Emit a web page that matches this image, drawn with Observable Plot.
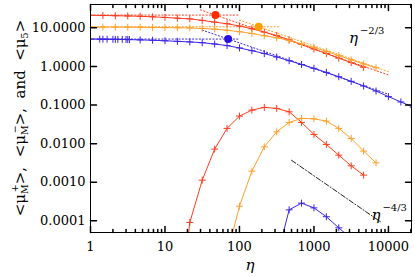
<!DOCTYPE html>
<html><head><meta charset="utf-8">
<script src="https://cdn.jsdelivr.net/npm/d3@7"></script>
<script src="https://cdn.jsdelivr.net/npm/@observablehq/plot@0.6"></script>
<style>body{margin:0;background:#fff;} svg{display:block;}</style>
</head><body><div id="chart"></div>
<script>
const eta = [1, 1.468, 2.154, 3.162, 4.642, 6.813, 10, 14.68, 21.54, 31.62, 46.42, 68.13, 100, 146.8, 215.4, 316.2, 464.2, 681.3, 1000, 1468, 2154, 3162, 4642, 6813, 10000, 14678, 21544];

// <mu_5> curves (start at eta[0])
const mu5Red    = [21, 20.8, 20.5, 20.2, 19.8, 19.2, 18.5, 17.7, 17.0, 15.5, 14.0, 12.7, 11.1, 9.4, 7.7, 6.3, 4.9, 3.7, 2.8, 2.15, 1.63, 1.25, 0.95];
const mu5Orange = [10.4, 10.4, 10.4, 10.35, 10.3, 10.2, 10.1, 10.0, 9.9, 9.6, 9.2, 8.6, 7.9, 7.1, 6.2, 5.5, 4.7, 3.8, 3.1, 2.45, 1.9, 1.48, 1.15, 0.92];
const mu5Blue   = [5.1, 5.05, 5.0, 4.95, 4.85, 4.75, 4.6, 4.45, 4.3, 4.1, 3.8, 3.45, 3.0, 2.55, 2.15, 1.75, 1.4, 1.12, 0.89, 0.7, 0.54, 0.41, 0.31, 0.23, 0.165, 0.12, 0.088];
const blueDenseEta = [1.33, 1.67, 2, 2.33, 2.67, 3, 3.33];
const blueDenseMu5 = [5.08, 5.05, 5.02, 5.0, 4.99, 4.97, 4.95];

// <mu_M> curves (start index into eta grid)
const muMRedStart = 7;
const muMRed    = [1e-7, 9.1e-5, 1.13e-3, 7.2e-3, 0.0248, 0.0516, 0.0738, 0.0867, 0.0817, 0.0667, 0.0354, 0.0173, 0.00953, 0.00503, 0.00266, 0.00153];
const muMOrangeStart = 11;
const muMOrange = [1.35e-5, 2.4e-4, 1.94e-3, 8.26e-3, 0.0202, 0.0354, 0.045, 0.044, 0.0383, 0.0248, 0.0136, 0.0064, 0.00318];
const muMBlueStart = 15;
const muMBlue   = [1.07e-5, 1.93e-4, 2.88e-4, 2.17e-4, 1.28e-4, 6.6e-5, 3.5e-5];

// asymptotes (dotted) and crossover points
const redFlatEta = [1, 100],     redFlatV = [21.3, 21.3];
const redSlopeEta = [30, 10000], redSlopeV = [29.0, 0.60];
const orFlatEta = [1, 350],      orFlatV = [10.6, 10.6];
const orSlopeEta = [100, 10000], orSlopeV = [15.8, 0.73];
const blFlatEta = [1, 100],      blFlatV = [5.1, 5.1];
const blSlopeEta = [31.6, 10000], blSlopeV = [8.7, 0.19];
const crossEta = [47.6, 181.6, 70.5];
const crossV   = [21.3, 10.6, 5.1];
const crossSeries = ["red", "orange", "blue"];
const slope43Eta = [500, 8000], slope43V = [3.7e-3, 9.2e-5];

const xMajor = [1, 10, 100, 1000, 10000];
const xMinor = [2,3,4,5,6,7,8,9,20,30,40,50,60,70,80,90,200,300,400,500,600,700,800,900,2000,3000,4000,5000,6000,7000,8000,9000,20000];
const yMajor = [1e-4, 1e-3, 1e-2, 1e-1, 1, 10];

const colors = {red: "#ff3c1e", orange: "#ffa028", blue: "#3a26e6"};
const dotColors = {red: "#ff2a00", orange: "#ffa000", blue: "#2a10e0"};

const rows = (xs, vs) => vs.map((v, i) => ({eta: xs[i], v}));
const seriesU = [
  {c: "red", d: rows(eta, mu5Red)},
  {c: "orange", d: rows(eta, mu5Orange)},
  {c: "blue", d: rows(eta, mu5Blue)},
  {c: "red", d: rows(eta.slice(muMRedStart), muMRed)},
  {c: "orange", d: rows(eta.slice(muMOrangeStart), muMOrange)},
  {c: "blue", d: rows(eta.slice(muMBlueStart), muMBlue)}
];
const asym = [
  {c: "red", d: rows(redFlatEta, redFlatV)}, {c: "red", d: rows(redSlopeEta, redSlopeV)},
  {c: "orange", d: rows(orFlatEta, orFlatV)}, {c: "orange", d: rows(orSlopeEta, orSlopeV)},
  {c: "blue", d: rows(blFlatEta, blFlatV)}, {c: "blue", d: rows(blSlopeEta, blSlopeV)}
];
const crossPts = crossEta.map((e, i) => ({eta: e, v: crossV[i], c: crossSeries[i]}));

const plusSym = {draw(ctx, size) { const r = Math.sqrt(size / Math.PI); ctx.moveTo(-r, 0); ctx.lineTo(r, 0); ctx.moveTo(0, -r); ctx.lineTo(0, r); }};
const tickShape = {draw(ctx, l) { ctx.moveTo(0, 0); ctx.lineTo(0, -l); }};

const marks = [];
for (const s of asym) marks.push(Plot.line(s.d, {x: "eta", y: "v", stroke: colors[s.c], strokeWidth: 1, strokeDasharray: "1.2,2.2", clip: true}));
for (const s of seriesU) {
  marks.push(Plot.line(s.d, {x: "eta", y: "v", stroke: colors[s.c], strokeWidth: 1, clip: true}));
  marks.push(Plot.dot(s.d, {x: "eta", y: "v", symbol: plusSym, r: 3.5, stroke: colors[s.c], fill: "none", strokeWidth: 1, clip: true}));
}
marks.push(Plot.dot(rows(blueDenseEta, blueDenseMu5), {x: "eta", y: "v", symbol: plusSym, r: 3.5, stroke: colors.blue, fill: "none", strokeWidth: 1}));
marks.push(Plot.line(rows(slope43Eta, slope43V), {x: "eta", y: "v", stroke: "#222", strokeWidth: 1, strokeDasharray: "5,2,1,2"}));
marks.push(Plot.dot(crossPts, {x: "eta", y: "v", r: 4, fill: d => dotColors[d.c], stroke: "none"}));
marks.push(Plot.frame({stroke: "black", strokeWidth: 1}));
// inward ticks
marks.push(Plot.vector(xMajor, {x: d => d, frameAnchor: "bottom", anchor: "start", length: 6, rotate: 0, shape: tickShape, stroke: "black"}));
marks.push(Plot.vector(xMinor, {x: d => d, frameAnchor: "bottom", anchor: "start", length: 3, rotate: 0, shape: tickShape, stroke: "black"}));
marks.push(Plot.vector(xMajor, {x: d => d, frameAnchor: "top", anchor: "start", length: 6, rotate: 180, shape: tickShape, stroke: "black"}));
marks.push(Plot.vector(xMinor, {x: d => d, frameAnchor: "top", anchor: "start", length: 3, rotate: 180, shape: tickShape, stroke: "black"}));
marks.push(Plot.vector(yMajor, {y: d => d, frameAnchor: "left", anchor: "start", length: 6, rotate: 90, shape: tickShape, stroke: "black"}));
marks.push(Plot.vector(yMajor, {y: d => d, frameAnchor: "right", anchor: "start", length: 6, rotate: -90, shape: tickShape, stroke: "black"}));
marks.push(Plot.axisX({ticks: xMajor, tickFormat: d => String(d), tickSize: 0, tickPadding: 9, label: null}));
marks.push(Plot.axisY({ticks: yMajor, tickFormat: d => d.toFixed(4), tickSize: 0, tickPadding: 5, label: null}));

const chart = Plot.plot({
  width: 415, height: 277,
  marginLeft: 90, marginRight: 4, marginTop: 4, marginBottom: 45,
  x: {type: "log", domain: [1, 20400]},
  y: {type: "log", domain: [5e-5, 40]},
  style: {fontFamily: "DejaVu Serif", fontSize: "13px", color: "black", background: "white", overflow: "visible"},
  marks
});
document.getElementById("chart").appendChild(chart);

// rich-text annotations
const sx = chart.scale("x"), sy = chart.scale("y");
const svg = d3.select(chart);
const ann = svg.append("g").attr("font-family", "DejaVu Serif").attr("fill", "black").attr("text-anchor", "start");

function etaPow(xv, yv, sup) {
  const t = ann.append("text").attr("text-anchor", "start").attr("x", sx.apply(xv)).attr("y", sy.apply(yv)).attr("font-size", 15);
  t.append("tspan").attr("font-style", "italic").text("η");
  t.append("tspan").attr("font-size", 10).attr("dx", 2).attr("dy", -9).text(sup);
}
etaPow(3000, 4.0, "−2/3");
etaPow(6000, 1.05e-4, "−4/3");

// x-axis title
ann.append("text").attr("x", 250).attr("y", 270).attr("text-anchor", "middle").attr("font-size", 15).attr("font-style", "italic").text("η");

// y-axis title
const yl = ann.append("text").attr("transform", "translate(25,118) rotate(-90)").attr("text-anchor", "middle").attr("font-size", 15);
function muTerm(sub, sup, tail) {
  yl.append("tspan").text("<μ");
  yl.append("tspan").attr("font-size", 9.5).attr("dy", 3).text(sub);
  if (sup) {
    yl.append("tspan").attr("font-size", 9.5).attr("dx", -8).attr("dy", -10).text(sup);
    yl.append("tspan").attr("dy", 7).text(">" + tail);
  } else {
    yl.append("tspan").attr("dy", -3).text(">" + tail);
  }
}
muTerm("M", "+", ",  ");
muTerm("M", "−", ",  and  ");
muTerm("5", null, "");
</script>
</body></html>
